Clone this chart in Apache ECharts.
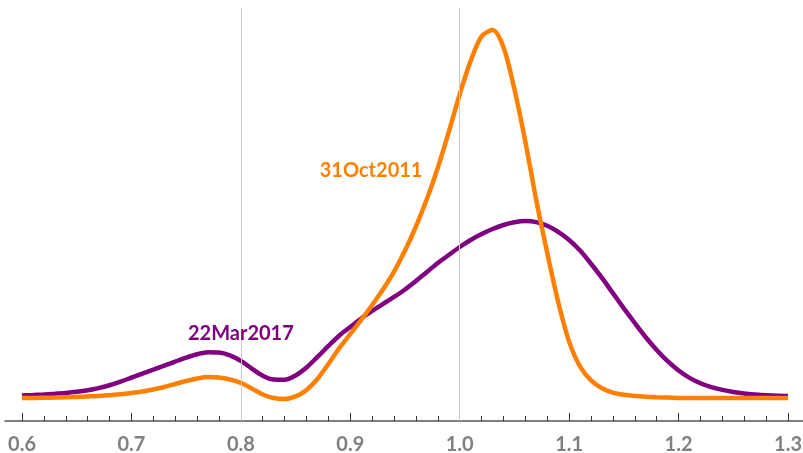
<!DOCTYPE html>
<html>
<head>
<meta charset="utf-8">
<script src="https://cdn.jsdelivr.net/npm/echarts@6/dist/echarts.min.js"></script>
<style>
  html, body { margin: 0; padding: 0; background: #fff; }
  #main { width: 803px; height: 453px; }
</style>
</head>
<body>
<div id="main"></div>
<script>
// x positions (0.60 .. 1.30, step 0.01)
const xs = []
for (let i = 0; i <= 70; i++) xs.push(+(0.6 + i * 0.01).toFixed(2))

// density values
const mar2017 = [
  0.071, 0.080, 0.091, 0.105, 0.122, 0.146, 0.178, 0.222, 0.280, 0.352,
  0.435, 0.515, 0.597, 0.680, 0.763, 0.843, 0.913, 0.955, 0.950, 0.890,
  0.776, 0.620, 0.475, 0.395, 0.390, 0.480, 0.643, 0.857, 1.082, 1.296,
  1.469, 1.643, 1.796, 1.939, 2.082, 2.235, 2.408, 2.592, 2.776, 2.939,
  3.102, 3.245, 3.367, 3.469, 3.551, 3.605, 3.630, 3.610, 3.535, 3.410,
  3.245, 3.030, 2.760, 2.470, 2.160, 1.850, 1.550, 1.260, 1.000, 0.770,
  0.580, 0.430, 0.320, 0.240, 0.185, 0.143, 0.112, 0.092, 0.076, 0.065,
  0.061
]
const oct2011 = [
  0.020, 0.020, 0.024, 0.029, 0.035, 0.041, 0.051, 0.061, 0.078, 0.096,
  0.122, 0.153, 0.194, 0.245, 0.306, 0.367, 0.418, 0.449, 0.439, 0.398,
  0.327, 0.214, 0.092, 0.020, 0.000, 0.051, 0.184, 0.408, 0.714, 1.040,
  1.327, 1.612, 1.918, 2.240, 2.600, 3.030, 3.520, 4.080, 4.720, 5.450,
  6.220, 6.900, 7.400, 7.530, 7.180, 6.320, 5.250, 4.050, 2.980, 1.980,
  1.170, 0.660, 0.380, 0.220, 0.130, 0.085, 0.060, 0.045, 0.035, 0.028,
  0.022, 0.020, 0.020, 0.020, 0.020, 0.020, 0.020, 0.020, 0.020, 0.020,
  0.020
]
const gridLinesAt = [0.8, 1.0]
const seriesNames = ['22Mar2017', '31Oct2011']
const labelAt = [[0.8, 1.33], [0.919, 4.67]]

const PURPLE = '#800080'
const ORANGE = '#ff8000'
const FONT = 'Lato, "Open Sans", sans-serif'

const myChart = echarts.init(document.getElementById('main'))

function tagPoint (coord, name, color) {
  return {
    symbol: 'circle',
    symbolSize: 0,
    data: [{ coord: coord }],
    label: {
      show: true,
      position: 'inside',
      formatter: name,
      color: color,
      fontFamily: FONT,
      fontWeight: 'bold',
      fontSize: 20
    },
    silent: true
  }
}

const option = {
  animation: false,
  grid: [
    { left: 22, right: 15, top: 8, bottom: 32, containLabel: false, outerBoundsMode: 'none' },
    { left: 5, right: 0, top: 8, bottom: 32, containLabel: false, outerBoundsMode: 'none' }
  ],
  xAxis: [
    {
      type: 'value',
      gridIndex: 0,
      min: 0.6,
      max: 1.3,
      interval: 0.1,
      axisLine: { show: false, onZero: false },
      axisTick: { show: true, inside: true, length: 8, lineStyle: { color: '#333', width: 1 } },
      minorTick: { show: true, splitNumber: 5, length: 5, lineStyle: { color: '#333', width: 1 } },
      splitLine: { show: false },
      axisLabel: {
        margin: 14,
        color: '#808080',
        fontFamily: FONT,
        fontWeight: 'bold',
        fontSize: 20,
        formatter: v => v.toFixed(1)
      }
    },
    {
      type: 'value',
      gridIndex: 1,
      min: 0,
      max: 1,
      axisLine: { show: true, onZero: false, lineStyle: { color: '#555', width: 1.5 } },
      axisTick: { show: false },
      axisLabel: { show: false },
      splitLine: { show: false }
    }
  ],
  yAxis: [
    { type: 'value', gridIndex: 0, min: -0.45, max: 7.98, show: false },
    { type: 'value', gridIndex: 1, min: 0, max: 1, show: false }
  ],
  series: [
    {
      name: seriesNames[0],
      type: 'line',
      smooth: 0.3,
      showSymbol: false,
      data: xs.map((x, i) => [x, mar2017[i]]),
      lineStyle: { color: PURPLE, width: 4.5 },
      itemStyle: { color: PURPLE },
      markLine: {
        silent: true,
        symbol: 'none',
        label: { show: false },
        lineStyle: { color: '#c8c8c8', width: 1, type: 'solid' },
        data: gridLinesAt.map(v => ({ xAxis: v }))
      },
      markPoint: tagPoint(labelAt[0], seriesNames[0], PURPLE)
    },
    {
      name: seriesNames[1],
      type: 'line',
      smooth: 0.3,
      showSymbol: false,
      data: xs.map((x, i) => [x, oct2011[i]]),
      lineStyle: { color: ORANGE, width: 4.5 },
      itemStyle: { color: ORANGE },
      markPoint: tagPoint(labelAt[1], seriesNames[1], ORANGE)
    }
  ]
}
myChart.setOption(option)
</script>
</body>
</html>
